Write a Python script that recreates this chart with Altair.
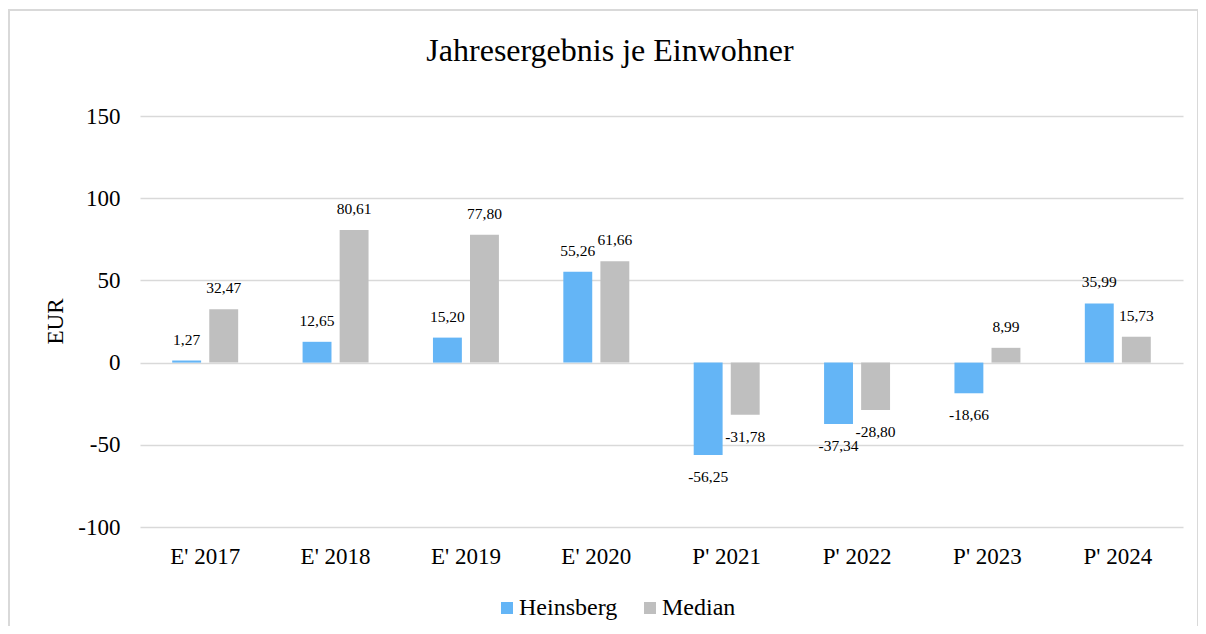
import altair as alt
import pandas as pd

title_text = "Jahresergebnis je Einwohner"
categories = ["E' 2017", "E' 2018", "E' 2019", "E' 2020", "P' 2021", "P' 2022", "P' 2023", "P' 2024"]
heinsberg = [1.27, 12.65, 15.20, 55.26, -56.25, -37.34, -18.66, 35.99]
median = [32.47, 80.61, 77.80, 61.66, -31.78, -28.80, 8.99, 15.73]
series_names = ["Heinsberg", "Median"]
colors = ["#64B5F6", "#BFBFBF"]
y_ticks = [-100, -50, 0, 50, 100, 150]

rows = []
for c, h, m in zip(categories, heinsberg, median):
    for s, v in zip(series_names, (h, m)):
        rows.append({"cat": c, "series": s, "value": v,
                     "label": f"{v:.2f}".replace(".", ",")})
df = pd.DataFrame(rows)

FONT = "Liberation Serif"

x_enc = alt.X("cat:N", sort=categories,
              scale=alt.Scale(paddingInner=0.494, paddingOuter=0.247),
              axis=alt.Axis(title=None, labelAngle=0, labelFont=FONT, labelFontSize=23,
                            labelColor="black", ticks=False, domain=False, labelPadding=18,
                            grid=False))
xoff_enc = alt.XOffset("series:N", sort=series_names,
                       scale=alt.Scale(paddingInner=0.22, paddingOuter=0))
y_enc = alt.Y("value:Q",
              scale=alt.Scale(domain=[-100, 150], nice=False),
              axis=alt.Axis(values=y_ticks, title="EUR", titleFont=FONT, titleFontSize=23,
                            titleFontWeight="normal", titleColor="black", titleAngle=-90,
                            titleX=-85, titleY=205, titleBaseline="middle", titleAlign="center",
                            labelFont=FONT, labelFontSize=23, labelColor="black",
                            labelExpr="toString(datum.value)",
                            labelPadding=20, ticks=False, domain=False,
                            gridColor="#d9d9d9", gridWidth=1.5))

base = alt.Chart(df)

bars = base.mark_bar().encode(
    x=x_enc, xOffset=xoff_enc, y=y_enc,
    color=alt.Color("series:N", sort=series_names,
                    scale=alt.Scale(domain=series_names, range=colors),
                    legend=alt.Legend(title=None, orient="none", direction="horizontal",
                                      legendX=355, legendY=480, symbolType="square",
                                      symbolSize=144, symbolStrokeWidth=0,
                                      labelFont=FONT, labelFontSize=24, labelColor="black",
                                      columnPadding=20, labelOffset=0)),
)

pos_labels = base.transform_filter("datum.value >= 0").mark_text(
    dy=-21, baseline="middle", font=FONT, fontSize=15.5, color="black"
).encode(x=x_enc, xOffset=xoff_enc, y=y_enc, text="label:N")

neg_labels = base.transform_filter("datum.value < 0").mark_text(
    dy=22, baseline="middle", font=FONT, fontSize=15.5, color="black"
).encode(x=x_enc, xOffset=xoff_enc, y=y_enc, text="label:N")

one = pd.DataFrame({"t": [title_text]})

border = alt.Chart(one).mark_rect(
    fill=None, stroke="#d9d9d9", strokeWidth=2, clip=False
).encode(x=alt.value(-131), x2=alt.value(1058), y=alt.value(-106), y2=alt.value(560))

title = alt.Chart(one).mark_text(
    font=FONT, fontSize=32, color="black", align="center", baseline="alphabetic"
).encode(x=alt.value(470), y=alt.value(-55), text="t:N")

chart = alt.layer(border, bars, pos_labels, neg_labels, title).properties(
    width=1043, height=411,
    background="white",
    autosize=alt.AutoSizeParams(type="none"),
    padding={"left": 132, "top": 108, "right": 15, "bottom": 99},
).configure_view(stroke=None)

chart.save("out.html", embed_options={"renderer": "svg", "actions": False})
